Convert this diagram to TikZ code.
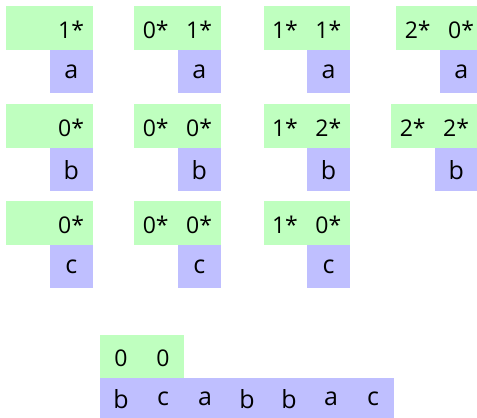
\documentclass[tikz,border=0pt]{standalone}
\usepackage{fontspec}
\setmainfont{Open Sans}
\definecolor{gcell}{RGB}{191,255,191}
\definecolor{bcell}{RGB}{191,191,255}
\tikzset{
  gbar/.style={fill=gcell, draw=none, minimum width=86.8pt, minimum height=43.4pt, inner sep=0pt, anchor=north west},
  bbar/.style={fill=bcell, draw=none, minimum width=43.4pt, minimum height=43.4pt, inner sep=0pt, anchor=north east, font=\fontsize{25}{25}\selectfont},
  dig/.style={font=\fontsize{23}{23}\selectfont, inner sep=0pt, anchor=base},
  let/.style={font=\fontsize{25}{25}\selectfont, inner sep=0pt},
}
\begin{document}
\begin{tikzpicture}[x=1pt,y=-1pt]
\clip (0,0) rectangle (477,418);
\foreach \x/\y/\da/\db/\l/\n in {
  6/6//1*/a/ra, 134/6/0*/1*/a/rb, 263.3/6/1*/1*/a/rc, 396/6/2*/0*/a/rd,
  6/104//0*/b/sa, 134/104/0*/0*/b/sb, 263.3/104/1*/2*/b/sc, 391/104/2*/2*/b/sd,
  6/201//0*/c/ta, 134/201/0*/0*/c/tb, 263.3/201/1*/0*/c/tc}{
  \node[gbar] (g\n) at (\x,\y) {};
  \node[bbar] (b\n) at (g\n.south east) {\l};
  \node[dig] (d\n a) at (\x+21.7,\y+32.3) {\da};
  \node[dig] (d\n b) at (\x+65.1,\y+32.3) {\db};
}
% bottom row
\node[gbar, minimum width=84pt, minimum height=43pt] (gbot) at (100,334.3) {};
\node[fill=bcell, draw=none, minimum width=294pt, minimum height=43pt, inner sep=0pt, anchor=north west] (bbot) at (gbot.south west) {};
\node[dig] (z1) at (121,366.5) {0};
\node[dig] (z2) at (163,366.5) {0};
\foreach \c [count=\i from 0] in {b,c,a,b,b,a,c}{
  \node[let] (l\i) at (121+42*\i,398.8) {\c};
}
\end{tikzpicture}
\end{document}
